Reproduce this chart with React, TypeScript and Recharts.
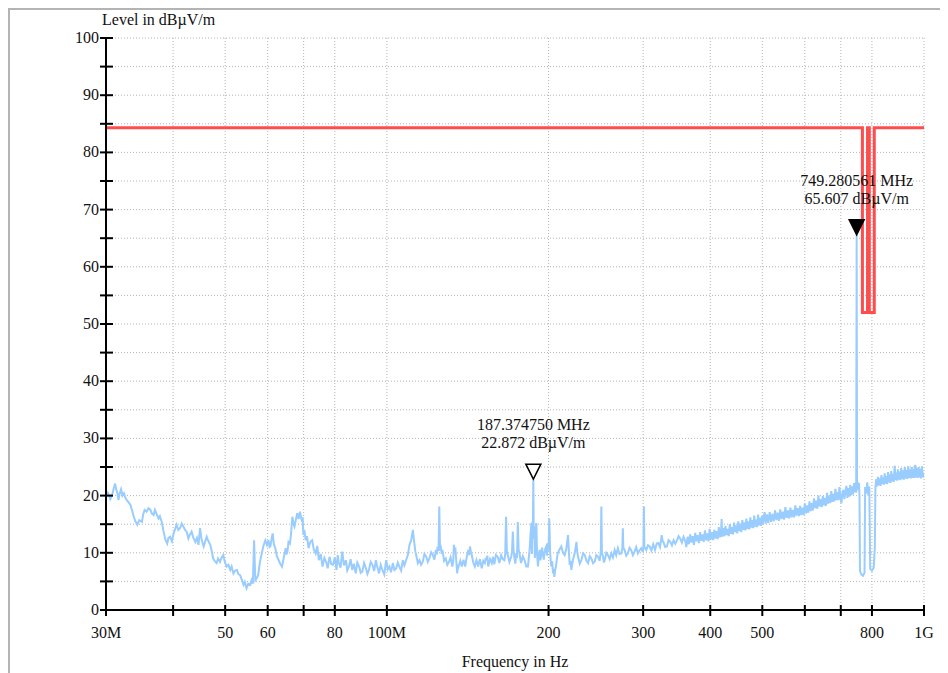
import { LineChart, Line, XAxis, YAxis, CartesianGrid, ReferenceDot } from "recharts";

const FONT = '"Liberation Serif", "Times New Roman", serif';

// peak markers (MHz, dBµV/m)
const markerFreq = [187.37475, 749.280561];
const markerLevel = [22.872, 65.607];
const markerFilled = [false, true];

// measured trace, [MHz, dBµV/m]
const trace30to69: [number, number][] = [
  [30.0, 19.5], [30.15, 20.6], [30.3, 20.4], [30.56, 19.4], [30.8, 20.1], [31.0, 21.2], [31.2, 22.1], [31.35, 21.0],
  [31.5, 20.4], [31.65, 19.2], [31.8, 20.3], [32.0, 21.1], [32.2, 20.0], [32.4, 20.4], [32.6, 19.6], [32.8, 19.2],
  [33.0, 18.9], [33.3, 18.4], [33.5, 17.6], [33.8, 16.3], [34.0, 15.6], [34.3, 14.9], [34.6, 15.7], [35.0, 15.4],
  [35.2, 16.8], [35.4, 17.5], [35.7, 17.2], [36.0, 17.8], [36.3, 17.5], [36.5, 16.9], [36.8, 16.6], [37.0, 17.5],
  [37.3, 16.7], [37.6, 16.0], [37.8, 16.4], [38.1, 15.4], [38.4, 13.7], [38.7, 12.3], [39.0, 11.6], [39.2, 12.6],
  [39.5, 12.8], [39.8, 12.0], [40.1, 13.4], [40.4, 14.3], [40.6, 14.9], [40.9, 14.0], [41.2, 14.3], [41.5, 15.1],
  [41.8, 14.6], [42.1, 14.0], [42.4, 13.7], [42.7, 12.5], [43.0, 13.2], [43.3, 13.7], [43.6, 12.7], [44.0, 11.9],
  [44.3, 12.6], [44.6, 11.4], [44.9, 14.3], [45.2, 12.3], [45.6, 11.1], [45.9, 12.0], [46.2, 12.8], [46.5, 12.1],
  [46.9, 11.4], [47.2, 10.3], [47.5, 9.0], [47.8, 8.6], [48.2, 8.2], [48.5, 9.0], [48.9, 8.4], [49.2, 9.1],
  [49.6, 9.6], [49.9, 8.5], [50.3, 7.6], [50.7, 7.9], [51.1, 7.0], [51.4, 7.6], [51.8, 6.4], [52.2, 6.9],
  [52.6, 7.0], [52.9, 6.3], [53.3, 6.1], [53.7, 5.3], [54.1, 4.4], [54.4, 4.9], [54.8, 3.8], [55.2, 4.6],
  [55.7, 4.4], [56.0, 5.2], [56.3, 4.6], [56.6, 12.2], [56.9, 5.2], [57.2, 5.5], [57.6, 6.1], [58.0, 8.2],
  [58.4, 9.6], [58.9, 11.2], [59.4, 12.2], [59.8, 11.4], [60.2, 12.2], [60.5, 11.0], [60.7, 11.1], [61.0, 12.4],
  [61.3, 13.4], [61.6, 11.5], [62.0, 10.8], [62.4, 9.4], [62.9, 8.7], [63.3, 8.1], [63.8, 7.6], [64.3, 9.2],
  [64.8, 10.8], [65.0, 9.7], [65.3, 10.2], [65.6, 11.9], [66.0, 11.6], [66.3, 13.2], [66.7, 16.3], [67.0, 15.1],
  [67.3, 14.6], [67.7, 15.8], [68.1, 16.9], [68.5, 15.9], [68.9, 17.2],
];

const trace69to157: [number, number][] = [
  [69.5, 15.4], [69.7, 16.2], [69.9, 13.1], [70.2, 14.0], [70.6, 12.2], [71.0, 12.9], [71.5, 10.8], [72.0, 11.9],
  [72.6, 12.2], [73.1, 10.6], [73.7, 9.9], [74.2, 11.2], [74.7, 8.7], [75.3, 9.8], [75.9, 7.6], [76.5, 9.1],
  [77.1, 8.4], [77.6, 7.3], [78.2, 9.3], [78.8, 8.0], [79.4, 7.9], [80.0, 9.2], [80.6, 7.0], [81.0, 9.6],
  [81.4, 8.2], [82.0, 7.4], [82.6, 10.2], [83.2, 7.8], [83.9, 8.7], [84.4, 6.9], [85.0, 7.6], [85.6, 8.9],
  [86.2, 7.0], [86.8, 8.1], [87.5, 6.4], [88.1, 8.3], [88.8, 7.6], [89.4, 6.5], [90.0, 6.7], [90.7, 8.2],
  [91.4, 7.3], [92.0, 6.3], [92.6, 7.0], [93.3, 8.4], [94.0, 7.9], [94.7, 6.8], [95.4, 8.7], [96.0, 7.5],
  [96.7, 6.4], [97.4, 7.9], [98.1, 7.0], [98.9, 6.2], [99.7, 8.7], [100.4, 7.1], [101.1, 7.6], [101.8, 6.6],
  [102.6, 8.2], [103.3, 7.0], [104.1, 7.3], [104.8, 8.3], [105.5, 7.6], [106.3, 6.9], [107.1, 8.7], [107.8, 7.8],
  [108.6, 8.7], [109.4, 9.6], [110.2, 11.4], [111.0, 12.2], [111.8, 14.0], [112.2, 12.6], [112.6, 11.4], [113.0, 10.2],
  [113.4, 9.6], [114.2, 8.2], [115.0, 8.7], [115.8, 7.9], [116.6, 8.4], [117.5, 9.8], [118.4, 9.3], [119.2, 8.4],
  [120.0, 9.0], [120.9, 10.1], [121.8, 9.6], [122.6, 8.8], [123.4, 10.5], [123.9, 9.7], [124.3, 11.1], [124.8, 10.3],
  [125.2, 18.1], [125.6, 10.4], [126.1, 10.8], [126.5, 9.8], [126.9, 10.5], [127.8, 8.6], [128.7, 9.0], [129.6, 7.9],
  [130.5, 8.4], [131.4, 9.2], [132.4, 7.6], [132.9, 8.5], [133.3, 11.4], [133.7, 10.2], [134.2, 10.5], [134.7, 8.4],
  [135.2, 6.4], [135.6, 7.9], [136.0, 7.6], [137.0, 8.6], [137.9, 7.6], [138.9, 8.8], [139.9, 7.6], [140.8, 9.2],
  [141.8, 10.5], [142.3, 9.6], [142.8, 11.1], [143.4, 10.1], [143.9, 9.6], [144.8, 8.3], [145.8, 7.6], [146.8, 8.7],
  [147.9, 7.6], [149.0, 8.9], [150.2, 7.3], [151.2, 8.6], [152.2, 8.2], [152.8, 9.1], [153.3, 8.7], [153.8, 9.5],
  [154.4, 7.6], [155.6, 8.9], [156.8, 8.2],
];

const trace157to360: [number, number][] = [
  [157.6, 9.3], [158.5, 8.0], [159.6, 9.6], [160.8, 9.3], [162.0, 8.2], [163.2, 9.6], [164.3, 8.9], [165.5, 8.7],
  [166.1, 9.8], [166.7, 16.3], [167.3, 10.1], [167.9, 9.6], [169.1, 8.4], [170.4, 9.3], [171.0, 10.2], [171.6, 13.7],
  [172.2, 10.3], [172.8, 9.0], [173.5, 8.1], [174.1, 9.9], [174.7, 9.1], [175.3, 15.4], [175.9, 10.6], [176.6, 9.9],
  [177.2, 8.9], [177.8, 8.2], [179.1, 9.4], [180.5, 8.7], [181.8, 7.6], [183.1, 7.6], [183.8, 9.2], [184.4, 10.5],
  [185.1, 13.2], [185.8, 15.2], [186.2, 9.8], [186.6, 15.4], [186.9, 12.4], [markerFreq[0], markerLevel[0]], [187.7, 13.1],
  [188.1, 14.6], [188.6, 9.1], [189.2, 12.6], [189.8, 15.2], [190.4, 9.7], [191.1, 7.6], [191.8, 9.4], [192.5, 10.5],
  [193.1, 8.7], [193.8, 9.6], [194.5, 10.9], [195.2, 9.9], [195.9, 8.8], [196.6, 9.9], [197.3, 10.8], [198.0, 11.1],
  [198.7, 9.5], [199.4, 11.7], [200.0, 10.4], [200.6, 16.0], [201.4, 9.8], [202.3, 7.6], [203.1, 8.5], [203.9, 6.4],
  [204.5, 7.2], [205.0, 5.8], [205.7, 6.9], [206.4, 7.6], [207.2, 8.8], [208.0, 9.9], [209.6, 10.6], [211.2, 11.1],
  [212.8, 10.0], [214.3, 9.6], [215.8, 10.7], [217.4, 13.1], [218.2, 10.2], [219.0, 7.9], [219.8, 8.6], [220.5, 7.0],
  [222.1, 8.8], [223.7, 9.9], [224.5, 10.8], [225.4, 11.9], [226.2, 10.1], [227.0, 9.3], [228.6, 8.1], [230.2, 8.7],
  [231.9, 9.9], [233.6, 9.6], [235.3, 8.6], [237.0, 8.2], [238.6, 9.4], [240.3, 9.0], [242.0, 8.2], [243.8, 8.5],
  [245.5, 9.6], [247.3, 9.3], [249.0, 8.6], [250.2, 10.2], [250.8, 18.1], [251.4, 10.0], [252.6, 9.3], [253.5, 8.3],
  [254.4, 8.7], [256.2, 10.0], [258.0, 9.6], [259.9, 8.9], [261.8, 9.9], [263.6, 9.2], [265.5, 10.5], [267.3, 9.6],
  [269.2, 10.8], [271.1, 9.8], [273.1, 9.9], [274.4, 10.8], [275.0, 14.3], [275.6, 10.9], [277.0, 10.5], [279.0, 9.5],
  [281.0, 9.9], [283.0, 10.9], [285.0, 10.5], [287.1, 9.6], [289.2, 10.2], [291.2, 11.0], [293.3, 9.9], [295.4, 10.4],
  [297.5, 10.8], [299.6, 10.1], [300.4, 11.2], [301.0, 18.1], [301.6, 11.0], [304.0, 10.5], [306.3, 11.3], [308.5, 11.1],
  [310.8, 10.4], [313.2, 11.5], [315.6, 10.5], [317.9, 11.6], [320.2, 11.7], [322.5, 11.0], [324.9, 13.1], [326.1, 12.0],
  [327.3, 11.9], [329.7, 11.0], [332.1, 11.1], [334.5, 12.2], [337.0, 11.9], [339.4, 11.3], [341.9, 12.2], [344.4, 11.6],
  [346.9, 12.2], [349.2, 12.9], [351.6, 12.5], [354.2, 11.8], [356.8, 12.8], [359.4, 12.0],
];

const trace360to760: [number, number][] = [
  [361, 11.0], [363, 12.8], [365, 11.5], [367, 13.2], [369, 11.8], [371, 12.9], [373, 11.4], [375, 13.5],
  [377, 12.0], [379, 13.1], [381, 11.7], [383, 13.6], [385, 12.1], [387, 13.2], [389, 11.9], [391, 13.9],
  [393, 12.2], [395, 13.4], [397, 12.0], [399, 14.2], [401, 12.3], [403, 13.6], [405, 12.2], [407, 14.0],
  [409, 12.5], [411, 13.8], [413, 12.4], [415, 14.5], [417, 12.7], [419, 13.9], [420, 15.9], [421, 12.8],
  [423, 14.3], [425, 12.9], [427, 14.7], [429, 13.1], [431, 14.2], [433, 12.9], [435, 15.0], [437, 13.3],
  [439, 14.5], [441, 13.2], [443, 15.3], [445, 13.6], [447, 14.8], [449, 13.4], [451, 15.5], [453, 13.8],
  [455, 15.1], [457, 13.6], [459, 15.7], [461, 14.0], [463, 15.3], [465, 13.9], [467, 16.0], [469, 14.2],
  [471, 15.5], [473, 14.1], [475, 16.2], [477, 14.4], [479, 15.7], [481, 14.3], [483, 16.5], [485, 14.6],
  [487, 15.8], [489, 14.5], [491, 16.7], [493, 14.8], [495, 16.1], [497, 14.7], [499, 16.4], [501, 15.0],
  [503, 16.3], [505, 17.1], [507, 15.1], [510, 16.7], [513, 15.2], [516, 17.1], [519, 15.4], [522, 16.8],
  [525, 15.5], [528, 17.4], [531, 15.7], [534, 17.0], [537, 15.6], [540, 17.6], [543, 15.9], [546, 17.2],
  [549, 15.8], [552, 18.0], [555, 16.1], [558, 17.4], [561, 16.0], [564, 17.9], [567, 16.2], [570, 17.5],
  [573, 16.2], [576, 18.3], [579, 16.5], [582, 17.8], [585, 16.4], [588, 18.2], [591, 16.6], [594, 17.9],
  [597, 16.6], [600, 18.6], [603, 16.9], [606, 18.3], [609, 17.0], [612, 19.0], [615, 17.3], [618, 18.7],
  [621, 17.4], [624, 19.5], [627, 17.8], [630, 19.1], [633, 17.7], [636, 20.0], [639, 18.1], [642, 19.4],
  [645, 18.0], [648, 19.9], [651, 18.3], [654, 19.6], [657, 18.2], [660, 20.5], [663, 18.6], [666, 20.0],
  [669, 18.7], [672, 20.8], [675, 18.9], [678, 20.3], [681, 19.0], [684, 21.2], [687, 19.2], [690, 20.6],
  [693, 19.2], [696, 21.5], [699, 19.5], [702, 18.7], [705, 20.5], [708, 21.0], [711, 19.4], [714, 20.7],
  [717, 21.7], [720, 19.6], [723, 21.3], [726, 19.8], [729, 21.9], [732, 20.1], [735, 21.6], [738, 20.2],
  [741, 22.2], [744, 20.6], [746, 22.3], [747.8, 20.5], [markerFreq[1], markerLevel[1]], [750.5, 21.2], [752.5, 22.4],
  [755, 20.9], [757, 22.2], [758.5, 19.5],
];

const trace760to1000: [number, number][] = [
  [760, 6.8], [765, 6.2], [770, 6.0], [775, 6.5], [777, 21.5], [781, 20.4], [784, 22.3], [788, 20.0],
  [791, 21.6], [794, 7.2], [800, 6.9], [806, 7.4], [810, 11.0], [812, 21.4], [815, 22.9], [818, 21.6],
  [821, 23.3], [824, 21.8], [827, 23.0], [830, 21.7], [833, 23.6], [836, 22.0], [839, 23.2], [842, 21.9],
  [845, 23.9], [848, 22.1], [851, 23.4], [854, 22.0], [857, 24.1], [860, 22.3], [863, 23.7], [866, 22.2],
  [869, 24.3], [872, 22.5], [875, 23.8], [878, 22.4], [882, 25.2], [885, 22.7], [888, 24.0], [891, 22.6],
  [894, 24.6], [897, 22.8], [900, 24.2], [903, 22.7], [907, 24.8], [910, 22.9], [914, 24.4], [917, 22.8],
  [921, 25.0], [924, 23.0], [928, 24.5], [931, 22.9], [935, 25.1], [938, 23.1], [942, 24.6], [945, 23.0],
  [949, 25.0], [952, 23.1], [956, 24.7], [959, 23.1], [963, 25.4], [966, 23.2], [970, 24.8], [973, 23.1],
  [977, 25.0], [980, 23.2], [984, 24.7], [987, 23.0], [991, 25.1], [995, 23.2], [1000, 24.0],
];

// limit line with the two notches
const limitFreq = [30, 768, 768, 785, 785, 791, 791, 808, 808, 1000];
const limitLevel = [84.3, 84.3, 52, 52, 84.3, 84.3, 52, 52, 84.3, 84.3];

const xTicks = [30, 40, 50, 60, 70, 80, 100, 200, 300, 400, 500, 600, 700, 800, 1000];
const xTickLabels = ["30M", "", "50", "60", "", "80", "100M", "200", "300", "400", "500", "", "", "800", "1G"];
const yTicks = [0, 5, 10, 15, 20, 25, 30, 35, 40, 45, 50, 55, 60, 65, 70, 75, 80, 85, 90, 95, 100];

const trace = [...trace30to69, ...trace69to157, ...trace157to360, ...trace360to760, ...trace760to1000].map(
  ([f, v]) => ({ f, v })
);
const limit = limitFreq.map((f, i) => ({ f, v: limitLevel[i] }));

function FreqTick(props: any) {
  const { x, y, payload } = props;
  const label = xTickLabels[xTicks.indexOf(payload.value)];
  return (
    <g>
      <line x1={x} x2={x} y1={y - 5} y2={y + 6} stroke="#000" strokeWidth={2} />
      <text x={x} y={y + 28} textAnchor="middle" fontFamily={FONT} fontSize={16} fill="#111">{label}</text>
    </g>
  );
}

function LevelTick(props: any) {
  const { x, y, payload } = props;
  const v = payload.value as number;
  return (
    <g>
      <line x1={x - 6} x2={x + 7} y1={y} y2={y} stroke="#000" strokeWidth={2} />
      {v % 10 === 0 && (
        <text x={x - 7} y={y + 5} textAnchor="end" fontFamily={FONT} fontSize={16} fill="#111">{v}</text>
      )}
    </g>
  );
}

function Marker(props: any, i: number) {
  const { cx, cy } = props;
  const filled = markerFilled[i];
  return (
    <g>
      <text x={cx} y={cy - 49} textAnchor="middle" fontFamily={FONT} fontSize={16} fill="#111">
        {markerFreq[i].toFixed(6)} MHz
      </text>
      <text x={cx} y={cy - 31} textAnchor="middle" fontFamily={FONT} fontSize={16} fill="#111">
        {markerLevel[i].toFixed(3)} dBµV/m
      </text>
      <polygon
        points={`${cx - 7.5},${cy - 15} ${cx + 7.5},${cy - 15} ${cx},${cy}`}
        fill={filled ? "#000" : "#fff"}
        stroke="#000"
        strokeWidth={1.5}
      />
    </g>
  );
}

export default function App() {
  return (
    <div
      style={{
        position: "relative",
        width: 938,
        height: 663,
        borderTop: "2px solid #b4b4b4",
        borderLeft: "2px solid #b4b4b4",
        background: "#fff",
        fontFamily: FONT,
      }}
    >
      <style>{"html,body{overflow:hidden}"}</style>
      <LineChart width={938} height={663} margin={{ top: 28, right: 24, bottom: 23, left: 0 }}>
        <CartesianGrid stroke="#b4b4b4" strokeDasharray="1 2" />
        <XAxis
          dataKey="f"
          type="number"
          scale="log"
          domain={[30, 1000]}
          allowDataOverflow
          ticks={xTicks}
          interval={0}
          tickSize={0}
          tickMargin={0}
          tickLine={false}
          tick={(p: any) => <FreqTick {...p} />}
          axisLine={{ stroke: "#000", strokeWidth: 2 }}
          height={40}
        />
        <YAxis
          type="number"
          domain={[0, 100]}
          allowDataOverflow
          ticks={yTicks}
          interval={0}
          tickSize={0}
          tickMargin={0}
          tickLine={false}
          tick={(p: any) => <LevelTick {...p} />}
          axisLine={{ stroke: "#000", strokeWidth: 2 }}
          width={96}
        />
        <Line data={trace} dataKey="v" type="linear" stroke="#99ccff" strokeWidth={2} dot={false} activeDot={false} isAnimationActive={false} />
        <Line data={limit} dataKey="v" type="linear" stroke="#ff4d4d" strokeWidth={3} dot={false} activeDot={false} isAnimationActive={false} />
        {markerFreq.map((f, i) => (
          <ReferenceDot key={f} x={f} y={markerLevel[i]} ifOverflow="visible" shape={(p: any) => Marker(p, i)} />
        ))}
      </LineChart>
      <div style={{ position: "absolute", left: 92, top: 2, fontSize: 16, lineHeight: "16px", whiteSpace: "nowrap", color: "#111" }}>
        Level in dBµV/m
      </div>
      <div
        style={{
          position: "absolute",
          left: 505,
          top: 644,
          transform: "translateX(-50%)",
          fontSize: 16,
          lineHeight: "16px",
          whiteSpace: "nowrap",
          color: "#111",
        }}
      >
        Frequency in Hz
      </div>
    </div>
  );
}
